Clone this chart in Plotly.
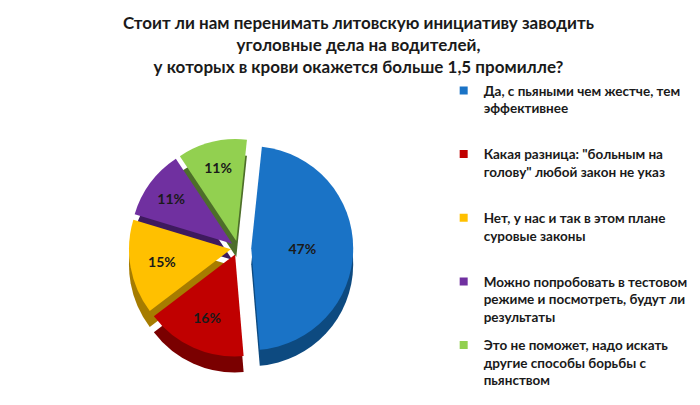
import plotly.graph_objects as go

# survey answers (clockwise from 12 o'clock)
labels = [
    "Да, с пьяными чем жестче, тем<br>эффективнее",
    "Какая разница: \"больным на<br>голову\" любой закон не указ",
    "Нет, у нас и так в этом плане<br>суровые законы",
    "Можно попробовать в тестовом<br>режиме и посмотреть, будут ли<br>результаты",
    "Это не поможет, надо искать<br>другие способы борьбы с<br>пьянством",
]
values = [47, 16, 15, 11, 11]
top_colors = ["#1A73C6", "#C00000", "#FFC000", "#7030A0", "#92D050"]
side_colors = ["#0D4A80", "#7A0000", "#A67C00", "#3E1A5E", "#4D6E2A"]
pulls = [0.13, 0.07, 0.07, 0.07, 0.07]

title = ("Стоит ли нам перенимать литовскую инициативу заводить<br>"
         "уголовные дела на водителей,<br>"
         "у которых в крови окажется больше 1,5 промилле?")

fig = go.Figure()

# darker copy shifted down to fake the 3D depth
fig.add_trace(go.Pie(
    labels=labels, values=values, sort=False, direction="clockwise",
    rotation=6, pull=pulls, showlegend=False, textinfo="none", hoverinfo="skip",
    marker=dict(colors=side_colors, line=dict(width=0)),
    domain=dict(x=[0.0, 0.647], y=[0.09, 0.81]),
))

fig.add_trace(go.Pie(
    labels=labels, values=values, sort=False, direction="clockwise",
    rotation=6, pull=pulls, textinfo="percent", textposition="inside",
    insidetextorientation="horizontal", showlegend=False,
    textfont=dict(family="Lato", size=14, color="#1a1a1a", weight="bold"),
    marker=dict(colors=top_colors, line=dict(width=0)),
    domain=dict(x=[0.0, 0.647], y=[0.14, 0.86]),
    hovertemplate="%{label}: %{percent}<extra></extra>",
))

# legend entries, one group each so they can be spaced evenly like Excel does
for lab, col in zip(labels, top_colors):
    padded = lab + "<br>\u00a0" * (2 - lab.count("<br>"))
    fig.add_trace(go.Scatter(
        x=[None], y=[None], mode="markers", name=padded, legendgroup=lab,
        marker=dict(symbol="square", size=8, color=col), hoverinfo="skip",
    ))

fig.update_xaxes(visible=False)
fig.update_yaxes(visible=False)

fig.update_layout(
    width=700, height=405, autosize=False,
    paper_bgcolor="white", plot_bgcolor="white",
    margin=dict(l=10, r=10, t=80, b=5),
    legend=dict(x=0.626, xanchor="left", y=1.04, yanchor="top", valign="top",
                bgcolor="rgba(0,0,0,0)", tracegroupgap=8,
                font=dict(family="Lato", size=13.5, color="#1a1a1a", weight="bold"),
                itemwidth=30, maxheight=1.0, itemclick=False, itemdoubleclick=False),
    annotations=[dict(text=title, xref="paper", yref="paper", x=0.5, y=1.245,
                      xanchor="center", yanchor="top", showarrow=False,
                      font=dict(family="Lato", size=17, color="#1a1a1a", weight="bold"))],
    shapes=[dict(type="line", xref="paper", yref="paper", x0=1.006, x1=1.006,
                 y0=-0.015, y1=1.25, layer="above",
                 line=dict(color="#a0a0a0", width=1.5))],
)

fig.write_html("out.html")
